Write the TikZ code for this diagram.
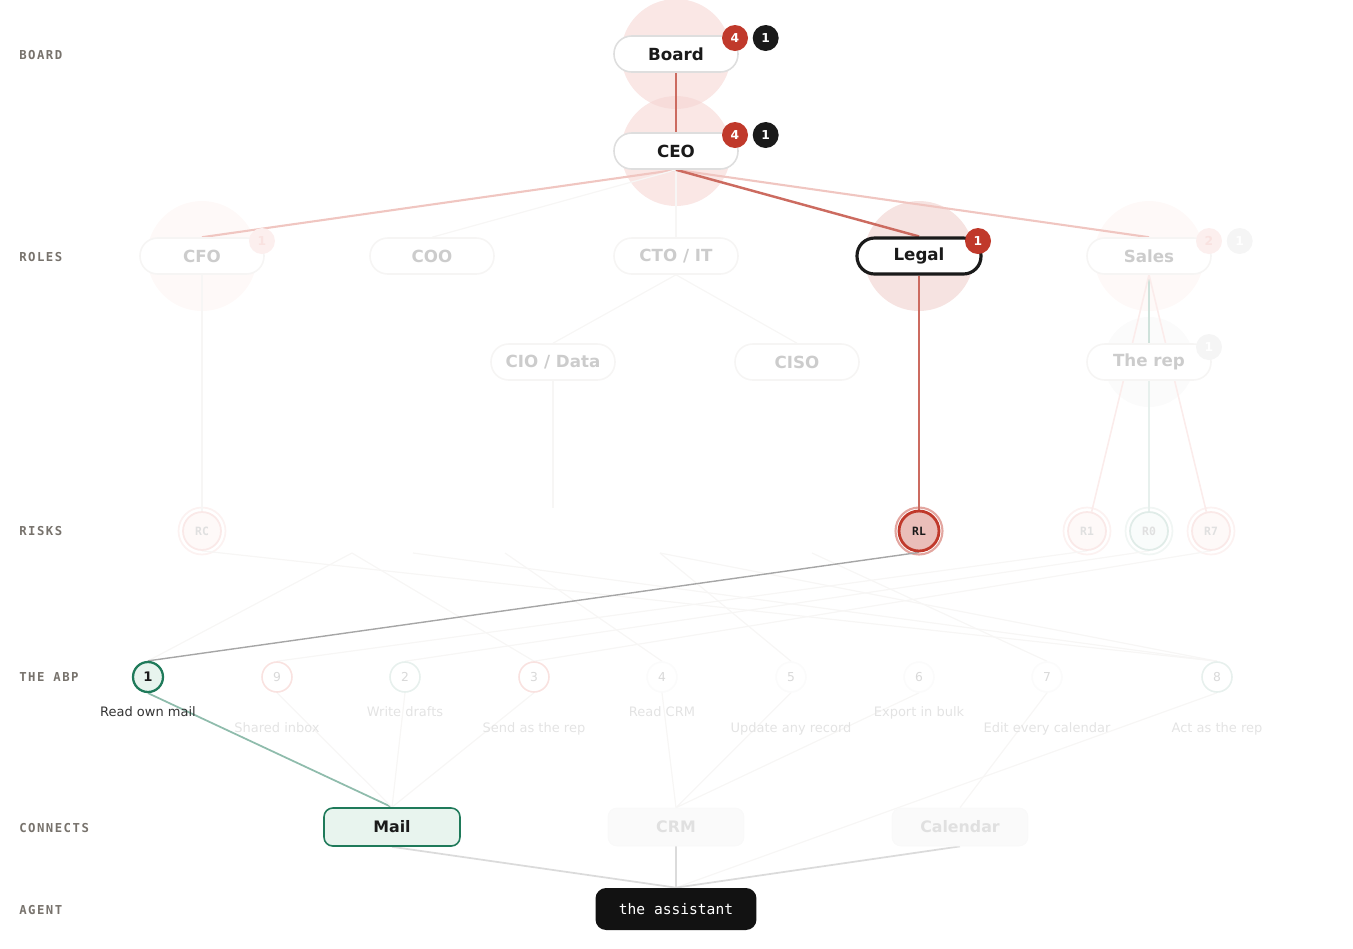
\documentclass[tikz,border=0pt]{standalone}
\usepackage{fontspec}
\setmainfont{DejaVu Sans}
\newfontfamily\monofont{DejaVu Sans Mono}
\newfontfamily\tierfont[LetterSpace=12]{DejaVu Sans Mono}
\usepackage{tikz}
\usetikzlibrary{shapes,arrows,positioning,backgrounds}

\definecolor{ink}{HTML}{1A1A1A}
\definecolor{tiergray}{HTML}{77726C}
\definecolor{redline}{HTML}{CC6B60}
\definecolor{pinkline}{HTML}{F0C6C1}
\definecolor{ghostline}{HTML}{F7F6F5}
\definecolor{badgered}{HTML}{C0392B}
\definecolor{halo}{HTML}{F9E2E0}
\definecolor{halobase}{HTML}{F5D3D0}
\definecolor{fadeline}{HTML}{F6F5F4}
\definecolor{fadetext}{HTML}{CCCCCC}
\definecolor{greenline}{HTML}{1F7A5A}
\definecolor{greenfill}{HTML}{E8F4EE}
\definecolor{tealline}{HTML}{CFE2DB}

\begin{document}
\begin{tikzpicture}[
    x=0.02cm, y=-0.02cm,
    tier/.style={anchor=west, inner sep=0pt, text=tiergray, font=\tierfont\bfseries\fontsize{7}{8}\selectfont},
    pill/.style={rectangle, rounded corners=10pt, draw=black!13, line width=0.9pt, fill=white, minimum width=2.48cm, minimum height=0.72cm, inner sep=0pt, text=ink, font=\bfseries\fontsize{9.5}{11}\selectfont},
    faded/.style={pill, draw=fadeline, text=fadetext},
    keypill/.style={pill, draw=ink, line width=1.8pt},
    badge/.style={circle, fill=badgered, text=white, minimum size=0.52cm, inner sep=0pt, font=\bfseries\fontsize{7}{8}\selectfont},
    darkbadge/.style={badge, fill=ink},
    ghostbadge/.style={badge, fill=halo!55, text=halo},
    greybadge/.style={badge, fill=black!4, text=white},
    risk/.style={circle, minimum size=0.76cm, inner sep=0pt, line width=1pt, draw=halo!75, fill=halo!22, text=black!12, font=\monofont\bfseries\fontsize{6.5}{7}\selectfont},
    keyrisk/.style={risk, minimum size=0.8cm, draw=badgered, line width=1.6pt, fill=badgered!33, text=ink},
    abp/.style={circle, minimum size=0.6cm, inner sep=0pt, line width=0.9pt, draw=black!1.5, fill=white, text=black!15, font=\fontsize{7}{8}\selectfont},
    keyabp/.style={abp, draw=greenline, line width=1.3pt, fill=greenfill, text=ink, font=\bfseries\fontsize{7.5}{8}\selectfont},
    abpcap/.style={inner sep=0pt, text=black!11, font=\fontsize{7.4}{9}\selectfont},
    conn/.style={rectangle, rounded corners=5pt, minimum width=2.72cm, minimum height=0.76cm, inner sep=0pt, draw=black!2.5, fill=black!1.8, text=black!12, font=\bfseries\fontsize{9}{11}\selectfont},
    keyconn/.style={conn, draw=greenline, line width=0.9pt, fill=greenfill, text=ink},
    agent/.style={rectangle, rounded corners=6pt, minimum width=3.22cm, minimum height=0.84cm, fill=black!93, text=white, font=\monofont\fontsize{8.3}{10}\selectfont},
    strong/.style={draw=redline, line width=1.4pt},
    soft/.style={draw=pinkline, line width=1.2pt},
    ghost/.style={draw=ghostline, line width=0.7pt}
]
\useasboundingbox (0,0) rectangle (1353,948);

% tiers
\node[tier] (t-board) at (19,55) {BOARD};
\node[tier] (t-roles) at (19,257) {ROLES};
\node[tier] (t-risks) at (19,531) {RISKS};
\node[tier] (t-abp) at (19,677) {THE ABP};
\node[tier] (t-conn) at (19,828) {CONNECTS};
\node[tier] (t-agent) at (19,910) {AGENT};

% board and roles
\node[pill] (board) at (676,54) {Board};
\node[pill] (ceo) at (676,151) {CEO};
\node[faded] (cfo) at (202,256) {CFO};
\node[faded] (coo) at (432,256) {COO};
\node[faded] (cto) at (676,256) {CTO / IT};
\node[keypill] (legal) at (919,256) {Legal};
\node[faded] (sales) at (1149,256) {Sales};
\node[faded] (cio) at (553,362) {CIO / Data};
\node[faded] (ciso) at (797,362) {CISO};
\node[faded] (rep) at (1149,362) {The rep};
\coordinate (cio-end) at (553,508);

% badges
\node[badge] (board-r) at (735,38) {4};
\node[darkbadge, right=0.08cm of board-r] (board-k) {1};
\node[badge] (ceo-r) at (735,135) {4};
\node[darkbadge, right=0.08cm of ceo-r] (ceo-k) {1};
\node[badge] (legal-r) at (978,241) {1};
\node[ghostbadge] (cfo-r) at (262,241) {1};
\node[ghostbadge] (sales-r) at (1209,241) {2};
\node[greybadge, right=0.08cm of sales-r] (sales-k) {1};
\node[greybadge] (rep-k) at (1209,347) {1};

% risks
\node[risk] (rc) at (202,531) {RC};
\node[keyrisk] (rl) at (919,531) {RL};
\node[risk] (r1) at (1087,531) {R1};
\node[risk, draw=tealline!65, fill=tealline!12] (r0) at (1149,531) {R0};
\node[risk] (r7) at (1211,531) {R7};
\coordinate (h1) at (352,553);
\coordinate (h2) at (413,553);
\coordinate (h3) at (505,553);
\coordinate (h4) at (660,553);
\coordinate (h5) at (812,553);

% the ABP
\node[keyabp] (a1) at (148,677) {1};
\node[abp, draw=halo] (a9) at (277,677) {9};
\node[abp, draw=tealline!50] (a2) at (405,677) {2};
\node[abp, draw=halo] (a3) at (534,677) {3};
\node[abp] (a4) at (662,677) {4};
\node[abp] (a5) at (791,677) {5};
\node[abp] (a6) at (919,677) {6};
\node[abp] (a7) at (1047,677) {7};
\node[abp, draw=tealline!50] (a8) at (1217,677) {8};
\node[abpcap, text=black!80, below=0.27cm of a1] (a1-cap) {Read own mail};
\node[abpcap, below=0.59cm of a9] (a9-cap) {Shared inbox};
\node[abpcap, below=0.27cm of a2] (a2-cap) {Write drafts};
\node[abpcap, below=0.59cm of a3] (a3-cap) {Send as the rep};
\node[abpcap, below=0.27cm of a4] (a4-cap) {Read CRM};
\node[abpcap, below=0.59cm of a5] (a5-cap) {Update any record};
\node[abpcap, below=0.27cm of a6] (a6-cap) {Export in bulk};
\node[abpcap, below=0.59cm of a7] (a7-cap) {Edit every calendar};
\node[abpcap, below=0.59cm of a8] (a8-cap) {Act as the rep};

% connects and agent
\node[keyconn] (mail) at (392,827) {Mail};
\node[conn] (crm) at (676,827) {CRM};
\node[conn] (cal) at (960,827) {Calendar};
\node[agent] (agent) at (676,909) {the assistant};

\begin{scope}[on background layer]
% halos
\fill[halo!22] (cfo) circle (1.1cm);
\fill[halo!22] (sales) circle (1.1cm);
\fill[black!1.5] (rep) circle (0.9cm);
\fill[halobase, opacity=0.55] (board) circle (1.1cm);
\fill[halobase, opacity=0.55] (ceo) circle (1.1cm);
\fill[halo!50!badgered!25] (legal) circle (1.1cm);
\draw[halo!45, line width=1pt] (rc) circle (0.47cm);
\draw[badgered!45, line width=1.2pt] (rl) circle (0.47cm);
\draw[halo!45, line width=1pt] (r1) circle (0.47cm);
\draw[tealline!30, line width=1pt] (r0) circle (0.47cm);
\draw[halo!45, line width=1pt] (r7) circle (0.47cm);

% org lines
\draw[strong] (board) -- (ceo);
\draw[soft] (ceo.south) -- (cfo.north);
\draw[ghost] (ceo.south) -- (coo.north);
\draw[ghost] (ceo.south) -- (cto.north);
\draw[soft] (ceo.south) -- (sales.north);
\draw[strong] (ceo.south) -- (legal.north);
\draw[ghost] (cto.south) -- (cio.north);
\draw[ghost] (cto.south) -- (ciso.north);
\draw[ghost] (cfo.south) -- (rc);
\draw[ghost] (cio.south) -- (cio-end);
\draw[strong] (legal.south) -- (rl);
\draw[tealline, line width=1pt] (sales.south) -- (rep.north);
\draw[tealline!50, line width=1pt] (rep.south) -- (r0);
\draw[halo!65, line width=0.9pt] (sales.south) -- (r1);
\draw[halo!65, line width=0.9pt] (sales.south) -- (r7);

% risk to ABP
\draw[ghost] (rc.south) -- (a8.north);
\draw[ghost] (h1) -- (a1.north);
\draw[ghost] (h1) -- (a3.north);
\draw[ghost] (h2) -- (a8.north);
\draw[ghost] (h3) -- (a4.north);
\draw[ghost] (h4) -- (a5.north);
\draw[ghost] (h4) -- (a8.north);
\draw[ghost] (h5) -- (a7.north);
\draw[ghost] (r1.south) -- (a9.north);
\draw[ghost] (r0.south) -- (a2.north);
\draw[ghost] (r7.south) -- (a3.north);
\draw[black!35, line width=0.8pt] (rl.south) -- (a1.north);

% ABP to connects
\draw[greenline!50, line width=1pt] (a1.south) -- (mail.north);
\draw[ghost] (a9.south) -- (mail.north);
\draw[ghost] (a2.south) -- (mail.north);
\draw[ghost] (a3.south) -- (mail.north);
\draw[ghost] (a4.south) -- (crm.north);
\draw[ghost] (a5.south) -- (crm.north);
\draw[ghost] (a6.south) -- (crm.north);
\draw[ghost] (a7.south) -- (cal.north);
\draw[ghost] (a8.south) -- (agent.north);

% connects to agent
\draw[black!14, line width=1pt] (mail.south) -- (agent.north);
\draw[black!14, line width=1pt] (crm.south) -- (agent.north);
\draw[black!14, line width=1pt] (cal.south) -- (agent.north);
\end{scope}
\end{tikzpicture}
\end{document}
